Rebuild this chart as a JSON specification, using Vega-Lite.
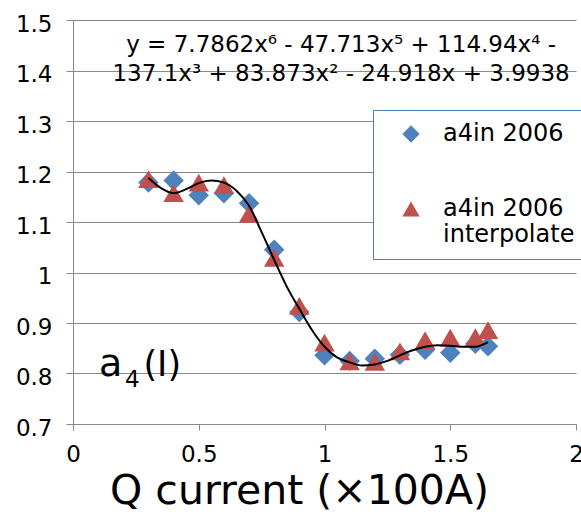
{
  "$schema": "https://vega.github.io/schema/vega-lite/v6.json",
  "width": 503,
  "height": 404,
  "autosize": {"type": "none"},
  "padding": {"left": 73, "top": 20, "right": 5, "bottom": 90},
  "background": "white",
  "config": {
    "view": {"stroke": null},
    "font": "DejaVu Sans",
    "axis": {"labelFont": "DejaVu Sans", "labelColor": "black", "titleFont": "DejaVu Sans", "titleColor": "black", "titleFontWeight": "normal", "domainColor": "#898989", "tickColor": "#898989", "gridColor": "#898989", "gridOpacity": 1}
  },
  "datasets": {
    "points": [
      {"q": 0.3, "a4": 1.178, "series": "a4in 2006"},
      {"q": 0.4, "a4": 1.182, "series": "a4in 2006"},
      {"q": 0.5, "a4": 1.153, "series": "a4in 2006"},
      {"q": 0.6, "a4": 1.157, "series": "a4in 2006"},
      {"q": 0.7, "a4": 1.137, "series": "a4in 2006"},
      {"q": 0.8, "a4": 1.045, "series": "a4in 2006"},
      {"q": 0.9, "a4": 0.922, "series": "a4in 2006"},
      {"q": 1.0, "a4": 0.836, "series": "a4in 2006"},
      {"q": 1.1, "a4": 0.825, "series": "a4in 2006"},
      {"q": 1.2, "a4": 0.829, "series": "a4in 2006"},
      {"q": 1.3, "a4": 0.837, "series": "a4in 2006"},
      {"q": 1.4, "a4": 0.847, "series": "a4in 2006"},
      {"q": 1.5, "a4": 0.841, "series": "a4in 2006"},
      {"q": 1.6, "a4": 0.859, "series": "a4in 2006"},
      {"q": 1.65, "a4": 0.854, "series": "a4in 2006"},
      {"q": 0.3, "a4": 1.185, "series": "a4in 2006 interpolate"},
      {"q": 0.4, "a4": 1.157, "series": "a4in 2006 interpolate"},
      {"q": 0.5, "a4": 1.178, "series": "a4in 2006 interpolate"},
      {"q": 0.6, "a4": 1.173, "series": "a4in 2006 interpolate"},
      {"q": 0.7, "a4": 1.116, "series": "a4in 2006 interpolate"},
      {"q": 0.8, "a4": 1.029, "series": "a4in 2006 interpolate"},
      {"q": 0.9, "a4": 0.934, "series": "a4in 2006 interpolate"},
      {"q": 1.0, "a4": 0.861, "series": "a4in 2006 interpolate"},
      {"q": 1.1, "a4": 0.824, "series": "a4in 2006 interpolate"},
      {"q": 1.2, "a4": 0.823, "series": "a4in 2006 interpolate"},
      {"q": 1.3, "a4": 0.844, "series": "a4in 2006 interpolate"},
      {"q": 1.4, "a4": 0.866, "series": "a4in 2006 interpolate"},
      {"q": 1.5, "a4": 0.871, "series": "a4in 2006 interpolate"},
      {"q": 1.6, "a4": 0.872, "series": "a4in 2006 interpolate"},
      {"q": 1.65, "a4": 0.886, "series": "a4in 2006 interpolate"}
    ],
    "fit": [
      {"q": 0.3, "a4": 1.187}, {"q": 0.35, "a4": 1.167}, {"q": 0.4, "a4": 1.157},
      {"q": 0.45, "a4": 1.165}, {"q": 0.5, "a4": 1.177}, {"q": 0.55, "a4": 1.182},
      {"q": 0.6, "a4": 1.178}, {"q": 0.65, "a4": 1.162}, {"q": 0.7, "a4": 1.132},
      {"q": 0.75, "a4": 1.08}, {"q": 0.8, "a4": 1.025}, {"q": 0.85, "a4": 0.972},
      {"q": 0.9, "a4": 0.928}, {"q": 0.95, "a4": 0.886}, {"q": 1.0, "a4": 0.853},
      {"q": 1.05, "a4": 0.832}, {"q": 1.1, "a4": 0.822}, {"q": 1.15, "a4": 0.816},
      {"q": 1.2, "a4": 0.818}, {"q": 1.25, "a4": 0.825}, {"q": 1.3, "a4": 0.836},
      {"q": 1.35, "a4": 0.846}, {"q": 1.4, "a4": 0.853}, {"q": 1.45, "a4": 0.856},
      {"q": 1.5, "a4": 0.855}, {"q": 1.55, "a4": 0.853}, {"q": 1.6, "a4": 0.853},
      {"q": 1.65, "a4": 0.862}
    ]
  },
  "layer": [
    {
      "data": {"name": "points"},
      "mark": {"type": "point", "filled": true, "opacity": 1, "size": 420, "strokeWidth": 0},
      "encoding": {
        "x": {"field": "q", "type": "quantitative", "scale": {"domain": [0, 2], "nice": false, "zero": false},
          "axis": {"values": [0, 0.5, 1, 1.5, 2], "format": "~g", "grid": false, "tickSize": 6, "labelFontSize": 23, "labelPadding": 13, "labelBound": false, "labelFlush": false, "labelOverlap": false,
            "title": "Q current (×100A)", "titleFontSize": 41, "titleX": 226, "titleY": 79, "titleBaseline": "alphabetic", "titleAlign": "center"}},
        "y": {"field": "a4", "type": "quantitative", "scale": {"domain": [0.7, 1.5], "nice": false, "zero": false},
          "axis": {"values": [0.7, 0.8, 0.9, 1, 1.1, 1.2, 1.3, 1.4, 1.5], "format": "~g", "grid": true, "tickSize": 7, "labelFontSize": 23, "labelPadding": 14, "labelOffset": 4, "title": null}},
        "color": {"field": "series", "type": "nominal",
          "scale": {"domain": ["a4in 2006", "a4in 2006 interpolate"], "range": ["#4F81BD", "#C0504D"]},
          "legend": {"orient": "none", "legendX": 300, "legendY": 90, "title": null, "strokeColor": "#4F81BD", "fillColor": "white", "padding": 12, "symbolOffset": 14, "labelOffset": 20, "symbolSize": 300, "labelFontSize": 24, "labelFont": "DejaVu Sans", "labelColor": "black", "rowPadding": 51, "labelLimit": 0, "symbolOpacity": 1, "symbolStrokeWidth": 0,
            "labelExpr": "datum.label == 'a4in 2006 interpolate' ? ['a4in 2006', 'interpolate'] : datum.label"}},
        "shape": {"field": "series", "type": "nominal",
          "scale": {"domain": ["a4in 2006", "a4in 2006 interpolate"], "range": ["diamond", "triangle-up"]}}
      }
    },
    {
      "data": {"name": "fit"},
      "mark": {"type": "line", "color": "black", "strokeWidth": 2, "interpolate": "monotone"},
      "encoding": {
        "x": {"field": "q", "type": "quantitative"},
        "y": {"field": "a4", "type": "quantitative"}
      }
    },
    {
      "data": {"values": [
        {"q": 1.066, "a4": 1.4361, "t": "y = 7.7862x⁶ - 47.713x⁵ + 114.94x⁴ -"},
        {"q": 1.066, "a4": 1.3786, "t": "137.1x³ + 83.873x² - 24.918x + 3.9938"}
      ]},
      "mark": {"type": "text", "align": "center", "baseline": "alphabetic", "fontSize": 23, "font": "DejaVu Sans", "color": "black"},
      "encoding": {
        "x": {"field": "q", "type": "quantitative"},
        "y": {"field": "a4", "type": "quantitative"},
        "text": {"field": "t"}
      }
    },
    {
      "data": {"values": [{"q": 0.103, "a4": 0.7946, "t": "a"}]},
      "mark": {"type": "text", "align": "left", "baseline": "alphabetic", "fontSize": 38, "font": "DejaVu Sans", "color": "black"},
      "encoding": {
        "x": {"field": "q", "type": "quantitative"},
        "y": {"field": "a4", "type": "quantitative"},
        "text": {"field": "t"}
      }
    },
    {
      "data": {"values": [{"q": 0.207, "a4": 0.7734, "t": "4"}]},
      "mark": {"type": "text", "align": "left", "baseline": "alphabetic", "fontSize": 23, "font": "DejaVu Sans", "color": "black"},
      "encoding": {
        "x": {"field": "q", "type": "quantitative"},
        "y": {"field": "a4", "type": "quantitative"},
        "text": {"field": "t"}
      }
    },
    {
      "data": {"values": [{"q": 0.28, "a4": 0.7946, "t": "(I)"}]},
      "mark": {"type": "text", "align": "left", "baseline": "alphabetic", "fontSize": 35, "font": "DejaVu Sans", "color": "black"},
      "encoding": {
        "x": {"field": "q", "type": "quantitative"},
        "y": {"field": "a4", "type": "quantitative"},
        "text": {"field": "t"}
      }
    }
  ]
}
